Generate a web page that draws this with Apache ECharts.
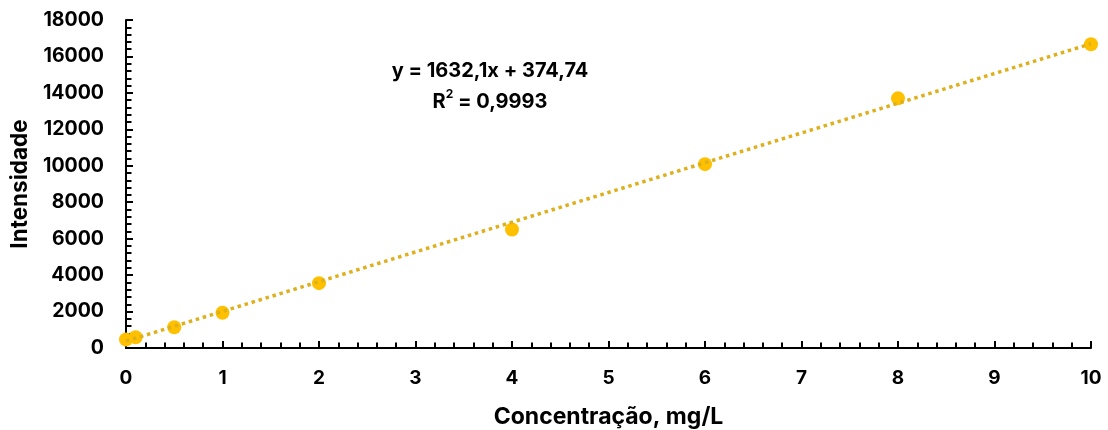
<!DOCTYPE html>
<html>
<head>
<meta charset="utf-8">
<script src="https://cdn.jsdelivr.net/npm/echarts@6/dist/echarts.min.js"></script>
<style>
html,body{margin:0;padding:0;background:#fff;}
#chart{width:1108px;height:430px;}
</style>
</head>
<body>
<div id="chart"></div>
<script>
// Data
const concentrations = [0, 0.1, 0.5, 1, 2, 4, 6, 8, 10];
const intensities = [470, 590, 1140, 1935, 3560, 6500, 10090, 13700, 16670];
// Trendline end points (y = 1632,1x + 374,74)
const trendX = [0, 10];
const trendY = [374.74, 16695.74];
const xTicks = [0, 1, 2, 3, 4, 5, 6, 7, 8, 9, 10];
const yTicks = [0, 2000, 4000, 6000, 8000, 10000, 12000, 14000, 16000, 18000];
const equationLine = 'y = 1632,1x + 374,74';
const r2Value = ' = 0,9993';

const FONT = 'Inter, "Liberation Sans", Arial, sans-serif';
const chart = echarts.init(document.getElementById('chart'), null, {renderer: 'canvas'});

const scatterData = concentrations.map((x, i) => [x, intensities[i]]);
const trendData = trendX.map((x, i) => [x, trendY[i]]);

const option = {
  animation: false,
  backgroundColor: '#ffffff',
  grid: {left: 126, right: 17, top: 20, bottom: 82, containLabel: false, outerBoundsMode: 'none'},
  xAxis: {
    type: 'value',
    min: xTicks[0],
    max: xTicks[xTicks.length - 1],
    interval: 1,
    name: 'Concentração, mg/L',
    nameLocation: 'middle',
    nameGap: 58,
    nameTextStyle: {fontFamily: FONT, fontWeight: 'bold', fontSize: 23, color: '#000'},
    axisLine: {show: true, onZero: false, lineStyle: {color: '#000', width: 2}},
    axisTick: {show: true, inside: true, length: 7, lineStyle: {color: '#000', width: 2}},
    minorTick: {show: true, splitNumber: 5, length: 5.5, lineStyle: {color: '#000', width: 2}},
    splitLine: {show: false},
    axisLabel: {fontFamily: FONT, fontWeight: 'bold', fontSize: 19, color: '#000', margin: 21}
  },
  yAxis: {
    type: 'value',
    min: yTicks[0],
    max: yTicks[yTicks.length - 1],
    interval: 2000,
    name: 'Intensidade',
    nameLocation: 'middle',
    nameGap: 94,
    nameTextStyle: {fontFamily: FONT, fontWeight: 'bold', fontSize: 22.5, color: '#000'},
    axisLine: {show: true, onZero: false, lineStyle: {color: '#000', width: 2}},
    axisTick: {show: true, inside: true, length: 7, lineStyle: {color: '#000', width: 2}},
    minorTick: {show: true, splitNumber: 5, length: 5.5, lineStyle: {color: '#000', width: 2}},
    splitLine: {show: false},
    axisLabel: {fontFamily: FONT, fontWeight: 'bold', fontSize: 19.5, color: '#000', margin: 22,
      formatter: v => String(v)}
  },
  graphic: [
    {
      type: 'text', x: 490, y: 71, z: 100,
      style: {
        text: equationLine, align: 'center', verticalAlign: 'middle',
        font: 'bold 20px ' + FONT, fill: '#000'
      }
    },
    {
      type: 'text', x: 490, y: 100, z: 100,
      style: {
        text: '{b|R}{s|2}{b|' + r2Value + '}', align: 'center', verticalAlign: 'middle',
        rich: {
          b: {fontFamily: FONT, fontWeight: 'bold', fontSize: 20, color: '#000', verticalAlign: 'bottom', lineHeight: 24},
          s: {fontFamily: FONT, fontWeight: 'bold', fontSize: 12, color: '#000', verticalAlign: 'top', lineHeight: 24}
        }
      }
    }
  ],
  series: [
    {
      type: 'scatter',
      data: scatterData,
      symbol: 'circle',
      symbolSize: 14,
      itemStyle: {color: '#FFC000', opacity: 1},
      z: 2
    },
    {
      type: 'line',
      data: trendData,
      symbol: 'none',
      lineStyle: {color: '#DDB01C', width: 3.5, type: [3.5, 3.8]},
      z: 3
    }
  ]
};
chart.setOption(option);
</script>
</body>
</html>
